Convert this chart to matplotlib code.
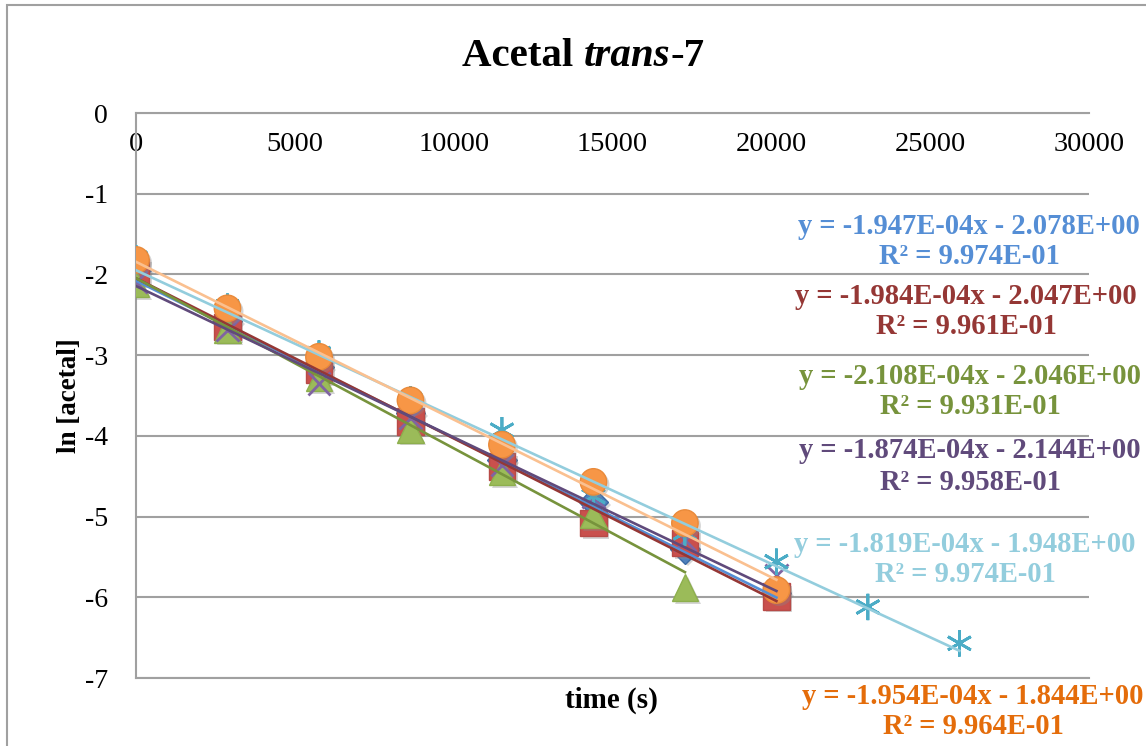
import matplotlib
matplotlib.use("Agg")
import matplotlib.pyplot as plt
import matplotlib.patheffects as pe
from matplotlib.patches import Rectangle

# ## Data ##
times = [0, 2880, 5760, 8640, 11520, 14400, 17280, 20160, 23040, 25920]

run_1 = [-1.95, -2.58, -3.15, -3.72, -4.30, -4.82, -5.40, -5.95]
run_2 = [-1.97, -2.65, -3.18, -3.82, -4.38, -5.08, -5.33, -5.99]
run_3 = [-2.12, -2.68, -3.28, -3.92, -4.45, -4.98, -5.88]
run_4 = [-2.09, -2.69, -3.35, -3.78, -4.36, -4.76, -5.29, -5.72]
run_5 = [-1.80, -2.40, -2.98, -3.55, -3.93, -4.75, -5.20, -5.56, -6.12, -6.57]
run_6 = [-1.82, -2.42, -3.02, -3.56, -4.11, -4.57, -5.08, -5.91]

slopes = [-1.947e-4, -1.984e-4, -2.108e-4, -1.874e-4, -1.819e-4, -1.954e-4]
intercepts = [-2.078, -2.047, -2.046, -2.144, -1.948, -1.844]
r_squared = [0.9974, 0.9961, 0.9931, 0.9958, 0.9974, 0.9964]

x_ticks = [0, 5000, 10000, 15000, 20000, 25000, 30000]
y_ticks = [0, -1, -2, -3, -4, -5, -6, -7]

# ## Styles ##
SERIF = ["Liberation Serif", "DejaVu Serif"]
W, H = 1146, 746
runs = [run_1, run_2, run_3, run_4, run_5, run_6]
markers = ["D", "s", "^", "x", (6, 2, 0), "o"]
marker_sizes = [15, 19, 19, 16, 19, 19]
face_colors = ["#4F81BD", "#C9504D", "#9BBB59", "#8064A2", "#4BACC6", "#F79646"]
edge_colors = ["#3A6AA5", "#B84A47", "#8DAF4D", "#8064A2", "#4BACC6", "#E98A3A"]
trend_colors = ["#558ED5", "#953735", "#77933C", "#604A7B", "#93CDDD", "#FAC090"]
label_colors = ["#558ED5", "#953735", "#77933C", "#604A7B", "#93CDDD", "#E46C0A"]
# label centre (x, first line y) in pixels
label_pos = [(969, 226), (966, 296), (970, 376), (970, 451), (965, 544), (973, 696)]

plt.rcParams["font.family"] = SERIF
plt.rcParams["axes.unicode_minus"] = False

fig = plt.figure(figsize=(W / 100, H / 100), dpi=100)
ax = fig.add_axes([136 / W, 1 - 678 / H, (1089 - 136) / W, (678 - 113) / H])

shadow = [pe.SimplePatchShadow(offset=(2, -2), shadow_rgbFace="#888888", alpha=0.35), pe.Normal()]

for i, run in enumerate(runs):
    xs = times[:len(run)]
    ax.plot(xs, run, linestyle="none", marker=markers[i], ms=marker_sizes[i],
            mfc=face_colors[i], mec=edge_colors[i], mew=2.0 if i in (3, 4) else 1.0,
            zorder=3 + i, path_effects=shadow)

for i, run in enumerate(runs):
    x_end = times[len(run) - 1]
    xs = [0, x_end]
    ys = [intercepts[i] + slopes[i] * x for x in xs]
    ax.plot(xs, ys, color=trend_colors[i], lw=1.9, zorder=10 + i)

ax.set_xlim(0, 30000)
ax.set_ylim(-7, 0)
ax.set_xticks(x_ticks)
ax.set_xticklabels([str(t) for t in x_ticks])
ax.set_yticks(y_ticks)
ax.set_yticklabels([str(t) for t in y_ticks])
ax.xaxis.set_ticks_position("top")
ax.tick_params(axis="x", length=0, pad=-32, labelsize=20.5, labeltop=True, labelbottom=False)
ax.tick_params(axis="y", length=0, pad=20, labelsize=20)

ax.grid(axis="y", color="#A0A0A0", lw=1.5, zorder=1)
ax.set_axisbelow(True)
for side in ["top", "left", "bottom"]:
    ax.spines[side].set_color("#A0A0A0")
    ax.spines[side].set_linewidth(1.5)
ax.spines["right"].set_visible(False)

# axis titles
fig.text(611 / W, 1 - 700 / H, "time (s)", ha="center", va="center",
         fontsize=21, fontweight="bold")
fig.text(70 / W, 1 - 396 / H, "ln [acetal]", ha="center", va="center",
         rotation=90, fontsize=19.5, fontweight="bold")

# trendline equations
for i in range(len(runs)):
    cx, cy = label_pos[i]
    sign = "-" if intercepts[i] < 0 else "+"
    eq = f"y = {slopes[i]:.3E}x {sign} {abs(intercepts[i]):.3E}"
    r2 = f"R² = {r_squared[i]:.3E}"
    fig.text(cx / W, 1 - cy / H, eq, ha="center", va="center",
             fontsize=20.6, fontweight="bold", color=label_colors[i])
    fig.text(cx / W, 1 - (cy + 31) / H, r2, ha="center", va="center",
             fontsize=20.6, fontweight="bold", color=label_colors[i])

# title: "Acetal " + italic "trans" + "-7"
renderer = fig.canvas.get_renderer()
parts = [("Acetal ", "normal"), ("trans", "italic"), ("-7", "normal")]
pieces = []
for txt, style in parts:
    pieces.append(fig.text(0, 1 - 57 / H, txt, fontsize=29.5, fontweight="bold",
                           style=style, va="center", ha="left"))
widths = [p.get_window_extent(renderer).width for p in pieces]
x0 = 583 - sum(widths) / 2
for p, w in zip(pieces, widths):
    p.set_x(x0 / W)
    x0 += w

# chart frame
fig.patches.append(Rectangle((7 / W, -0.05), 1.0, 1.05 - 5 / H, transform=fig.transFigure,
                             fill=False, edgecolor="#A0A0A0", lw=1.5))

fig.savefig("out.png", dpi=100)
